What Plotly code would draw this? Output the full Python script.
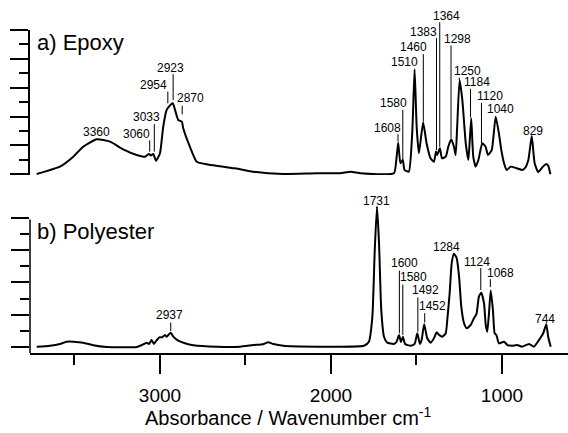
import plotly.graph_objects as go

# ---------------- data ----------------
epoxy_wn = [3721, 3585, 3507, 3449, 3370, 3292, 3215, 3136, 3088, 3064, 3053, 3039, 3023, 3000,
            2981, 2961, 2951, 2925, 2912, 2893, 2872, 2864, 2825, 2785, 2727, 2571, 2532, 2456,
            2281, 2082, 1947, 1885, 1826, 1632, 1618, 1607, 1594, 1580, 1570, 1545, 1525, 1511,
            1499, 1486, 1461, 1441, 1418, 1398, 1386, 1379, 1363, 1351, 1329, 1314, 1297, 1281,
            1271, 1262, 1248, 1232, 1212, 1197, 1190, 1180, 1168, 1154, 1138, 1115, 1096, 1082,
            1060, 1037, 1018, 1004, 988, 973, 949, 914, 881, 866, 846, 826, 809, 788, 760, 740,
            729, 717]
epoxy_abs = [0.02, 0.53, 1.22, 1.91, 2.43, 2.26, 1.73, 1.34, 1.22, 1.41, 1.30, 1.41, 0.94, 1.46,
             3.30, 4.46, 4.64, 4.92, 4.46, 3.76, 3.65, 3.19, 1.91, 0.87, 0.69, 0.42, 0.35, 0.18,
             0.02, 0.07, 0.07, 0.18, 0.07, 0.07, 0.99, 2.19, 0.76, 0.99, 0.30, 0.18, 2.84, 7.28,
             3.30, 1.46, 3.58, 2.15, 1.11, 0.87, 1.57, 1.34, 1.80, 1.11, 1.22, 1.91, 2.43, 1.91,
             1.34, 3.30, 6.54, 5.15, 2.15, 0.99, 2.03, 3.88, 1.22, 0.53, 0.99, 2.15, 1.91, 1.34,
             1.68, 3.99, 2.84, 1.68, 0.76, 0.30, 0.53, 0.42, 0.30, 0.42, 0.99, 2.65, 0.76, 0.16,
             0.53, 0.71, 0.58, 0.0]

poly_wn = [3721, 3643, 3585, 3546, 3507, 3449, 3390, 3312, 3136, 3107, 3078, 3064, 3049, 3035,
           3019, 3004, 2988, 2971, 2961, 2937, 2922, 2893, 2854, 2805, 2668, 2532, 2454, 2398,
           2367, 2337, 2279, 2080, 1965, 1807, 1778, 1758, 1744, 1731, 1719, 1706, 1690, 1671,
           1632, 1617, 1602, 1591, 1579, 1567, 1534, 1511, 1495, 1480, 1470, 1455, 1437, 1417,
           1398, 1382, 1368, 1349, 1329, 1320, 1306, 1294, 1281, 1265, 1251, 1238, 1222, 1206,
           1183, 1164, 1149, 1135, 1121, 1105, 1095, 1086, 1076, 1066, 1053, 1043, 1033, 1018,
           988, 968, 942, 911, 883, 842, 813, 784, 759, 741, 730, 715]
poly_abs = [0.02, 0.08, 0.19, 0.33, 0.33, 0.27, 0.11, 0.0, 0.0, 0.12, 0.27, 0.19, 0.43, 0.19,
            0.43, 0.60, 0.60, 0.75, 0.64, 0.89, 0.64, 0.39, 0.23, 0.11, 0.02, 0.02, 0.12, 0.17,
            0.29, 0.19, 0.08, 0.02, 0.02, 0.08, 0.33, 1.88, 6.02, 8.71, 6.44, 2.30, 0.64, 0.27,
            0.19, 0.31, 0.75, 0.31, 0.64, 0.19, 0.08, 0.19, 0.85, 0.19, 0.43, 1.41, 0.54, 0.27,
            0.54, 0.91, 0.75, 0.64, 0.85, 1.68, 3.34, 5.20, 5.78, 5.51, 4.37, 2.50, 1.47, 1.16,
            1.37, 1.78, 2.05, 3.12, 3.37, 2.71, 1.37, 0.95, 2.09, 3.50, 2.30, 0.85, 0.75, 0.23,
            0.33, 0.12, 0.08, 0.12, 0.02, 0.19, 0.02, 0.43, 0.85, 1.41, 0.64, 0.02]

assert len(epoxy_wn) == len(epoxy_abs)
assert len(poly_wn) == len(poly_abs)

# peak labels: text, text position (wavenumber, absorbance), leader line (wavenumber, top, bottom)
epoxy_labels = ["3360", "3060", "3033", "2954", "2923", "2870", "1608", "1580", "1510", "1460",
                "1383", "1364", "1298", "1250", "1184", "1120", "1040", "829"]
epoxy_label_x = [3370, 3140, 3078, 3035, 2936, 2820, 1671, 1632, 1569, 1515,
                 1461, 1326, 1262, 1201, 1148, 1071, 1006, 821]
epoxy_label_y = [2.95, 2.77, 3.99, 6.19, 7.35, 5.27, 3.23, 4.92, 7.80, 8.80,
                 9.84, 10.99, 9.38, 7.18, 6.38, 5.40, 4.54, 3.02]
epoxy_line_wn = [None, 3060, 3033, 2954, 2923, 2870, 1608, 1580, None, 1460,
                 1383, 1364, 1298, 1250, 1184, 1120, None, None]
epoxy_line_top = [None, 2.45, 3.58, 5.84, 7.04, 4.85, 2.88, 4.57, None, 8.43,
                  9.54, 10.64, 9.03, 6.80, 6.03, 5.05, None, None]
epoxy_line_bot = [None, 1.57, 1.57, 4.92, 5.15, 4.16, 2.26, 0.99, None, 3.65,
                  1.68, 1.91, 2.51, 6.54, 3.95, 2.15, None, None]

poly_labels = ["2937", "1731", "1600", "1580", "1492", "1452", "1284", "1124", "1068", "744"]
poly_label_x = [2942, 1731, 1573, 1515, 1446, 1408, 1326, 1148, 1008, 749]
poly_label_y = [1.99, 9.07, 5.20, 4.33, 3.54, 2.55, 6.23, 5.26, 4.61, 1.74]
poly_line_wn = [2937, None, 1600, 1580, 1492, 1452, None, 1124, 1068, None]
poly_line_top = [1.61, None, 4.83, 3.96, 3.17, 2.19, None, 4.99, 4.30, None]
poly_line_bot = [0.99, None, 0.85, 0.75, 0.95, 1.51, None, 3.54, 3.71, None]

panel_titles = ["a) Epoxy", "b) Polyester"]
x_tick_vals = [1000, 2000, 3000]
x_tick_text = ["1000", "2000", "3000"]
x_minor_vals = [1500, 2500, 3500]
epoxy_major_y = [0, 2, 4, 6, 8, 10]
epoxy_minor_y = [1, 3, 5, 7, 9]
poly_major_y = [0, 2, 4, 6, 8]
poly_minor_y = [1, 3, 5, 7]

# ---------------- figure ----------------
FONT = "Liberation Sans, Arial, Helvetica, sans-serif"
xrange = [3760, 614]
y1range = [-0.05, 10]
y2range = [-0.372, 9.116]

fig = go.Figure()
fig.add_trace(go.Scatter(x=epoxy_wn, y=epoxy_abs, xaxis="x", yaxis="y", mode="lines",
                         line=dict(color="black", width=2, shape="spline", smoothing=0.5),
                         showlegend=False, hoverinfo="skip"))
fig.add_trace(go.Scatter(x=poly_wn, y=poly_abs, xaxis="x2", yaxis="y2", mode="lines",
                         line=dict(color="black", width=2, shape="spline", smoothing=0.5),
                         showlegend=False, hoverinfo="skip"))

annotations = []


def add_labels(labels, lx, ly, lwn, ltop, lbot, xr, yr):
    for t, x, y, w, top, bot in zip(labels, lx, ly, lwn, ltop, lbot):
        # text sits at the (unclipped) arrow tail; the invisible arrow head stays on the baseline
        annotations.append(dict(x=x, y=0, ax=x, ay=y, xref=xr, yref=yr, axref=xr, ayref=yr,
                                text=t, showarrow=True, arrowcolor="rgba(0,0,0,0)",
                                arrowwidth=0.1, arrowhead=0,
                                xanchor="center", yanchor="middle",
                                font=dict(family=FONT, size=12, color="black")))
        if w is not None:
            annotations.append(dict(x=w, y=bot, ax=w, ay=top, xref=xr, yref=yr,
                                    axref=xr, ayref=yr, text="", showarrow=True,
                                    arrowhead=0, arrowwidth=1, arrowcolor="black",
                                    standoff=0, startstandoff=0))


add_labels(epoxy_labels, epoxy_label_x, epoxy_label_y, epoxy_line_wn,
           epoxy_line_top, epoxy_line_bot, "x", "y")
add_labels(poly_labels, poly_label_x, poly_label_y, poly_line_wn,
           poly_line_top, poly_line_bot, "x2", "y2")

# left axis line of panel b, stopping at the top tick
annotations.append(dict(x=xrange[0], y=y2range[0], ax=xrange[0], ay=poly_major_y[-1],
                        xref="x2", yref="y2", axref="x2", ayref="y2", text="",
                        showarrow=True, arrowhead=0, arrowwidth=1.5, arrowcolor="black",
                        standoff=0, startstandoff=0))

annotations.append(dict(x=0.0087, y=0.914, xref="x domain", yref="y domain",
                        text=panel_titles[0], showarrow=False, xanchor="left", yanchor="middle",
                        font=dict(family=FONT, size=22, color="black")))
annotations.append(dict(x=0.0093, y=0.7928, xref="x2 domain", yref="y2 domain",
                        text=panel_titles[1], showarrow=False, xanchor="left", yanchor="middle",
                        font=dict(family=FONT, size=22, color="black")))
annotations.append(dict(x=0.480, y=-0.198, xref="paper", yref="paper",
                        text="Absorbance / Wavenumber cm<sup>-1</sup>", showarrow=False,
                        xanchor="center", yanchor="middle",
                        font=dict(family=FONT, size=20, color="black")))

tick_common = dict(ticks="outside", tickcolor="black", tickwidth=1.5, ticklen=18,
                   showticklabels=False, showgrid=False, zeroline=False, fixedrange=True)

fig.update_layout(
    width=568, height=433,
    margin=dict(l=30, r=0, t=30, b=80),
    paper_bgcolor="white", plot_bgcolor="white",
    showlegend=False,
    xaxis=dict(domain=[0, 1], anchor="y", range=xrange, visible=False, showgrid=False,
               zeroline=False),
    yaxis=dict(domain=[0.5511, 1.0], anchor="x", range=y1range,
               showline=True, linecolor="black", linewidth=1.5,
               tickvals=epoxy_major_y,
               minor=dict(tickvals=epoxy_minor_y, ticks="outside", ticklen=9,
                          tickwidth=1.5, tickcolor="black", showgrid=False),
               **tick_common),
    xaxis2=dict(domain=[0, 1], anchor="y2", range=xrange, showline=True, linecolor="black",
                linewidth=1.5, ticks="outside", tickcolor="black", tickwidth=1.5, ticklen=19,
                tickvals=x_tick_vals, ticktext=x_tick_text, ticklabelstandoff=5,
                tickfont=dict(family=FONT, size=19, color="black"),
                minor=dict(tickvals=x_minor_vals, ticks="outside", ticklen=10, tickwidth=1.5,
                           tickcolor="black", showgrid=False),
                showgrid=False, zeroline=False),
    yaxis2=dict(domain=[0, 0.4737], anchor="x2", range=y2range, showline=False,
                tickvals=poly_major_y,
                minor=dict(tickvals=poly_minor_y, ticks="outside", ticklen=9,
                           tickwidth=1.5, tickcolor="black", showgrid=False),
                **tick_common),
    annotations=annotations,
)

fig.write_html("out.html")
